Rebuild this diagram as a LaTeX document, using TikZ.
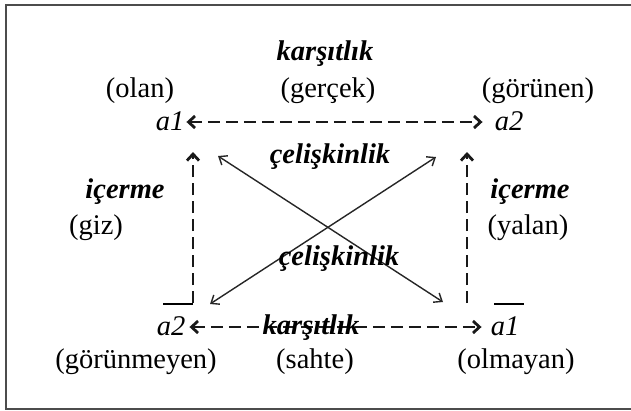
\documentclass[tikz,border=0pt]{standalone}
\usepackage{fontspec}
\setmainfont{Liberation Serif}
\usetikzlibrary{arrows.meta}
\begin{document}
\begin{tikzpicture}[x=1pt,y=-1pt,
  txt/.style={font=\rmfamily\fontsize{28.5}{34}\selectfont, inner sep=0pt, anchor=base},
  lbl/.style={font=\rmfamily\fontsize{28.5}{34}\selectfont\bfseries\itshape, inner sep=0pt, anchor=base},
  var/.style={font=\rmfamily\fontsize{28.5}{34}\selectfont\itshape, inner xsep=4pt, inner ysep=0pt, text height=16pt, text depth=0pt, anchor=base},
  dasharrow/.style={line width=2.3pt, draw=black!90, dash pattern=on 12pt off 6pt},
  dboth/.style={{Straight Barb[length=6.5pt,width=12pt,line width=2.8pt]}-{Straight Barb[length=6.5pt,width=12pt,line width=2.8pt]}},
  dup/.style={-{Straight Barb[length=6.5pt,width=12pt,line width=2.8pt]}},
  diag/.style={line width=1.4pt, draw=black!85, {Straight Barb[length=7pt,width=11pt]}-{Straight Barb[length=7pt,width=11pt]}},
  bar/.style={line width=1.6pt, draw=black}
]
\useasboundingbox (0,0) rectangle (631,410);
% frame
\draw[line width=2pt, draw=black!70] (640,5) -- (6,5) -- (6,409) -- (640,409);

% top row
\node[lbl] (k1) at (325,60) {karşıtlık};
\node[txt] (olan) at (140,97) {(olan)};
\node[txt] (gercek) at (328,97) {(gerçek)};
\node[txt] (gorunen) at (538,97) {(görünen)};
\node[var] (a1) at (170,130) {a1};
\node[var] (a2) at (509,130) {a2};

% middle labels
\node[lbl] (c1) at (330,163) {çelişkinlik};
\node[lbl] (i1) at (125,198) {içerme};
\node[txt] (giz) at (96,234) {(giz)};
\node[lbl] (i2) at (530,198) {içerme};
\node[txt] (yalan) at (528,234) {(yalan)};

% bottom row
\node[var] (b2) at (171,335) {a2};
\node[var] (b1) at (505,335) {a1};
\node[txt] (gorunmeyen) at (136,368) {(görünmeyen)};
\node[txt] (sahte) at (315,368) {(sahte)};
\node[txt] (olmayan) at (516,368) {(olmayan)};

% coordinates
\coordinate (lt) at (193,152);
\coordinate (lb) at (193,303);
\coordinate (rt) at (467,152);
\coordinate (rb) at (467,303);
\coordinate (d1s) at (218,156);
\coordinate (d1e) at (443,302);
\coordinate (d2s) at (436,157);
\coordinate (d2e) at (210,304);

% horizontal dashed arrows
\draw[dasharrow, dboth] ([xshift=-2]a1.east) -- ([xshift=-8]a2.west);
\draw[dasharrow, dboth] (b2.east) -- ([xshift=-5]b1.west);
% vertical dashed arrows
\draw[dasharrow, dup] (lb) -- (lt);
\draw[dasharrow, dup] (rb) -- (rt);
% diagonals
\draw[diag] (d1s) -- (d1e);
\draw[diag] (d2s) -- (d2e);
% overlines
\draw[bar] (163,304) -- (193,304);
\draw[bar] (494,304) -- (524,304);

\node[lbl] (c2) at (339,265) {çelişkinlik};
\node[lbl] (k2) at (311,334) {karşıtlık};
\end{tikzpicture}
\end{document}
